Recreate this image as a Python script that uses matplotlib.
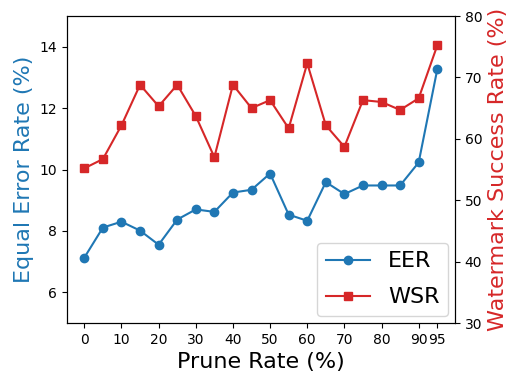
import matplotlib
matplotlib.use('Agg')
import matplotlib.pyplot as plt

# taxa de poda e resultados
prune = [0, 5, 10, 15, 20, 25, 30, 35, 40, 45, 50, 55, 60, 65, 70, 75, 80, 85, 90, 95]
eer = [7.13, 8.11, 8.30, 8.01, 7.55, 8.37, 8.70, 8.62, 9.25, 9.34,
       9.87, 8.53, 8.33, 9.59, 9.20, 9.48, 9.48, 9.48, 10.23, 13.26]
wsr = [55.2, 56.7, 62.2, 68.8, 65.3, 68.8, 63.7, 57.0, 68.8, 65.0,
       66.3, 61.7, 72.3, 62.2, 58.7, 66.3, 66.0, 64.7, 66.6, 75.2]
xticks = [0, 10, 20, 30, 40, 50, 60, 70, 80, 90, 95]

fig = plt.figure(figsize=(5.19, 3.85), dpi=100)
ax1 = fig.add_axes([0.1285, 0.161, 0.748, 0.7974])
ax2 = ax1.twinx()

l1, = ax1.plot(prune, eer, color='tab:blue', marker='o', label='EER')
l2, = ax2.plot(prune, wsr, color='tab:red', marker='s', label='WSR')

ax1.set_ylim(5, 15)
ax2.set_ylim(30, 80)
ax1.set_xticks(xticks)
ax1.set_xlabel('Prune Rate (%)', fontsize=16)
ax1.set_ylabel('Equal Error Rate (%)', fontsize=16, color='tab:blue')
ax2.set_ylabel('Watermark Success Rate (%)', fontsize=16, color='tab:red')

ax1.legend([l1, l2], ['EER', 'WSR'], loc='lower right', fontsize=16,
           labelspacing=0.72, borderaxespad=0.3)

plt.savefig('out.png', format='png')
